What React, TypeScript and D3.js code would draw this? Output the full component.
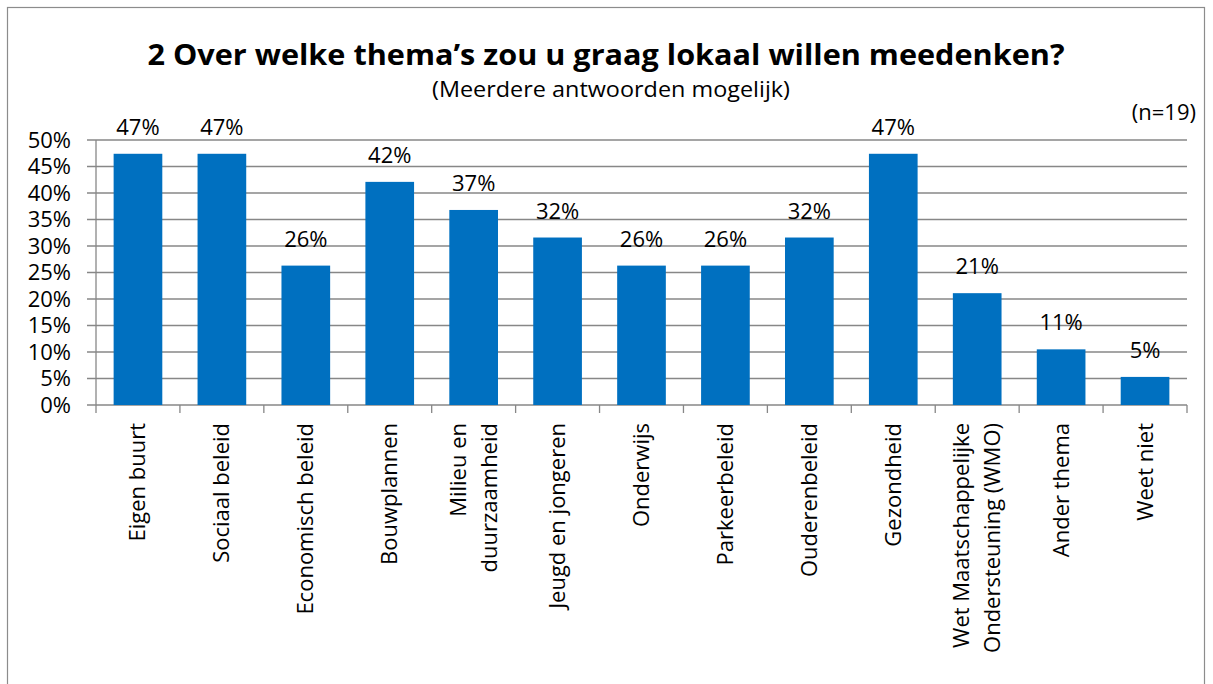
import React from 'react';
import * as d3 from 'd3';

const width = 1213;
const height = 684;
const margin = {top: 140, right: 26, bottom: 279, left: 96};
const blue = '#0070c0';
const grid = '#878787';
const font = '"Open Sans", Lato, sans-serif';
const fs = 22;

const categories = [
  ['Eigen buurt'],
  ['Sociaal beleid'],
  ['Economisch beleid'],
  ['Bouwplannen'],
  ['Milieu en', 'duurzaamheid'],
  ['Jeugd en jongeren'],
  ['Onderwijs'],
  ['Parkeerbeleid'],
  ['Ouderenbeleid'],
  ['Gezondheid'],
  ['Wet Maatschappelijke', 'Ondersteuning (WMO)'],
  ['Ander thema'],
  ['Weet niet'],
];
const values = [0.474, 0.474, 0.263, 0.421, 0.368, 0.316, 0.263, 0.263, 0.316, 0.474, 0.211, 0.105, 0.053];
const yTicks = [0, 0.05, 0.1, 0.15, 0.2, 0.25, 0.3, 0.35, 0.4, 0.45, 0.5];

const title = '2 Over welke thema\u2019s zou u graag lokaal willen meedenken?';
const subtitle = '(Meerdere antwoorden mogelijk)';
const nLabel = '(n=19)';

const x = d3.scaleBand<number>()
  .domain(d3.range(categories.length))
  .range([margin.left, width - margin.right])
  .paddingInner(0.42)
  .paddingOuter(0.21);
const y = d3.scaleLinear().domain([0, 0.5]).range([height - margin.bottom, margin.top]);
const pct = d3.format('.0%');

export default function App() {
  const step = x.step();
  const x0 = margin.left;
  const y0 = y(0);
  return (
    <svg width={width} height={height} style={{position: 'absolute', left: 0, top: 0, background: '#fff'}}>
      <rect x={7.5} y={7.5} width={1197} height={700} fill="#fff" stroke="#8c8c8c" strokeWidth={1.2}/>
      <text x={606} y={65} textAnchor="middle" fontFamily={font} fontWeight="bold" fontSize={29}
        textLength={917} lengthAdjust="spacingAndGlyphs">{title}</text>
      <text x={611} y={97} textAnchor="middle" fontFamily={font} fontSize={fs}
        textLength={358} lengthAdjust="spacingAndGlyphs">{subtitle}</text>
      <text x={1196} y={120} textAnchor="end" fontFamily={font} fontSize={fs}>{nLabel}</text>

      {yTicks.map(t => (
        <g key={t}>
          <line x1={x0 - 9} x2={width - margin.right} y1={y(t)} y2={y(t)} stroke={grid} strokeWidth={1.3}/>
          <text x={71} y={y(t) + 7.5} textAnchor="end" fontFamily={font} fontSize={fs}>{pct(t)}</text>
        </g>
      ))}
      <line x1={x0} x2={x0} y1={y(0.5)} y2={y0} stroke={grid} strokeWidth={1.3}/>
      {d3.range(categories.length + 1).map(i => (
        <line key={i} x1={x0 + i * step} x2={x0 + i * step} y1={y0} y2={y0 + 8} stroke={grid} strokeWidth={1.3}/>
      ))}

      {values.map((v, i) => (
        <g key={i}>
          <rect x={x(i)} y={y(v)} width={x.bandwidth()} height={y0 - y(v)} fill={blue}/>
          <text x={x(i)! + x.bandwidth() / 2} y={y(v) - 19} textAnchor="middle" fontFamily={font} fontSize={fs}>{pct(v)}</text>
        </g>
      ))}

      {categories.map((lines, i) => {
        const cx = x(i)! + x.bandwidth() / 2;
        return lines.map((ln, j) => (
          <text key={i + '-' + j} transform={`translate(${cx + 7.5 + (j - (lines.length - 1) / 2) * 31}, 423) rotate(-90)`}
            textAnchor="end" fontFamily={font} fontSize={fs}>{ln}</text>
        ));
      })}
    </svg>
  );
}
